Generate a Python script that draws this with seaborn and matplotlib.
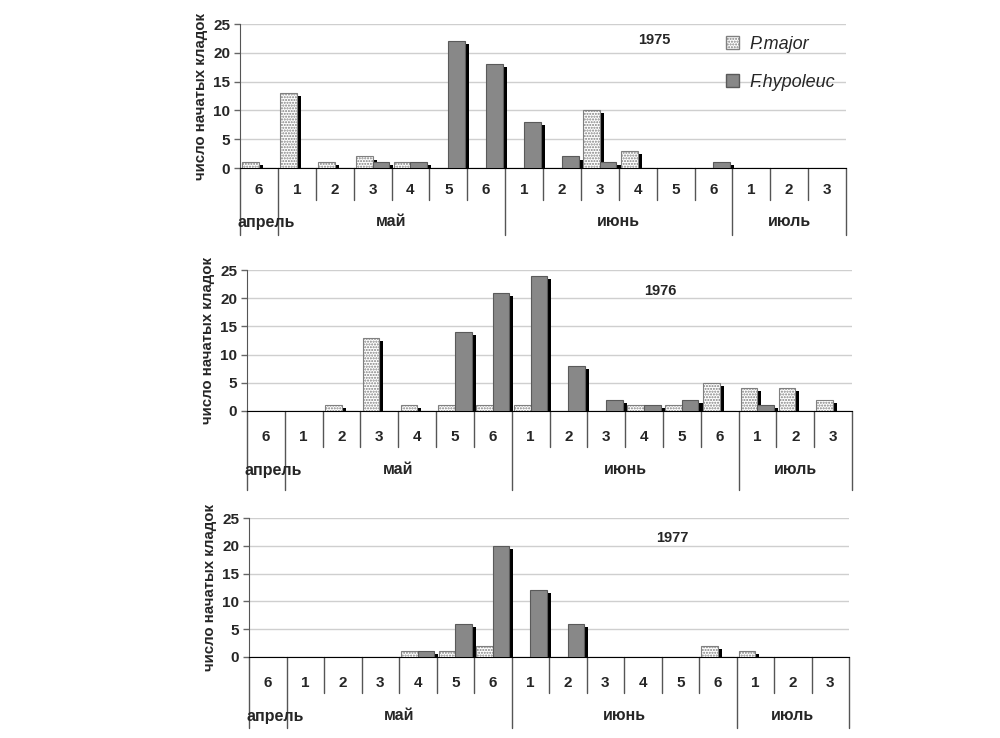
import pandas as pd
import seaborn as sns
import matplotlib.pyplot as plt
import matplotlib.transforms as mtransforms
from matplotlib.patches import Rectangle, Patch

# 16 ten-day periods (декады): апрель 6, май 1-6, июнь 1-6, июль 1-3
slots = ['6', '1', '2', '3', '4', '5', '6', '1', '2', '3', '4', '5', '6', '1', '2', '3']
months = ['апрель', 'май', 'июнь', 'июль']
month_len = [1, 6, 6, 3]
species = ['P.major', 'F.hypoleuc']
years = ['1975', '1976', '1977']

pmajor_1975 = [1, 13, 1, 2, 1, 0, 0, 0, 0, 10, 3, 0, 0, 0, 0, 0]
fhyp_1975 = [0, 0, 0, 1, 1, 22, 18, 8, 2, 1, 0, 0, 1, 0, 0, 0]
pmajor_1976 = [0, 0, 1, 13, 1, 1, 1, 1, 0, 0, 1, 1, 5, 4, 4, 2]
fhyp_1976 = [0, 0, 0, 0, 0, 14, 21, 24, 8, 2, 1, 2, 0, 1, 0, 0]
pmajor_1977 = [0, 0, 0, 0, 1, 1, 2, 0, 0, 0, 0, 0, 2, 1, 0, 0]
fhyp_1977 = [0, 0, 0, 0, 1, 6, 20, 12, 6, 0, 0, 0, 0, 0, 0, 0]

series = {
    '1975': (pmajor_1975, fhyp_1975),
    '1976': (pmajor_1976, fhyp_1976),
    '1977': (pmajor_1977, fhyp_1977),
}

sns.set_style("white")
plt.rcParams['font.family'] = ['Liberation Sans', 'DejaVu Sans']

W, H = 1000, 738
fig = plt.figure(figsize=(W / 100, H / 100), dpi=100)

# panel boxes in pixels: left, right, y of 0, y of 25
boxes = [(240, 846, 168, 24), (247, 852, 411, 270), (249, 849, 657, 518)]
# table layout below axis (px): number row, month row, short line, long line
table_px = [(22, 54, 32, 67), (26, 59, 36, 79), (26, 59, 36, 71)]
year_pos = [(0.683, 0.889), (0.683, 0.851), (0.705, 0.856)]

palette = {'P.major': 'white', 'F.hypoleuc': '#888888'}
order = [str(i) for i in range(len(slots))]

for k, yr in enumerate(years):
    left, right, y0, y25 = boxes[k]
    ah = y0 - y25
    ax = fig.add_axes([left / W, 1 - y0 / H, (right - left) / W, ah / H])

    pm, fh = series[yr]
    df = pd.DataFrame({
        'pos': order * 2,
        'count': pm + fh,
        'species': ['P.major'] * len(pm) + ['F.hypoleuc'] * len(fh),
    })
    sns.barplot(data=df, x='pos', y='count', hue='species', order=order,
                hue_order=species, palette=palette, width=0.88, gap=0,
                legend=False, ax=ax, zorder=3)

    for bar in ax.containers[0]:
        bar.set_hatch('......')
        bar.set_edgecolor('#808080')
        bar.set_linewidth(0.8)
    for bar in ax.containers[1]:
        bar.set_edgecolor('#5a5a5a')
        bar.set_linewidth(0.8)

    # black drop shadow on the right of every bar
    shift = ax.transData + mtransforms.ScaledTranslation(2.9 / 72, -2.2 / 72, fig.dpi_scale_trans)
    for cont in ax.containers:
        for bar in cont:
            if bar.get_height() > 0:
                ax.add_patch(Rectangle((bar.get_x(), 0), bar.get_width(), bar.get_height(),
                                       transform=shift, facecolor='black',
                                       edgecolor='none', zorder=2))

    ax.set_xlim(-0.5, len(slots) - 0.5)
    ax.set_ylim(0, 25)
    ax.set_yticks(range(0, 26, 5))
    ax.yaxis.grid(True, color='#cfcfcf', lw=1)
    ax.set_axisbelow(True)
    ax.set_xticks([])
    ax.set_xlabel('')
    ax.set_ylabel('число начатых кладок', fontsize=10.8, fontweight='bold', labelpad=4)
    ax.tick_params(axis='y', left=True, length=4, width=1, color='#666666',
                   labelsize=11, pad=3)
    for lab in ax.get_yticklabels():
        lab.set_fontweight('bold')
    for side in ['top', 'right']:
        ax.spines[side].set_visible(False)
    ax.spines['left'].set_color('#555555')
    ax.spines['bottom'].set_color('black')

    # category table below the axis
    num_px, mon_px, short_px, long_px = table_px[k]
    tr = mtransforms.blended_transform_factory(ax.transData, ax.transAxes)
    for i, s in enumerate(slots):
        ax.text(i, -num_px / ah, s, transform=tr, ha='center', va='center',
                fontsize=11, fontweight='bold')
    bounds = [-0.5]
    for n in month_len:
        bounds.append(bounds[-1] + n)
    for i in range(len(slots) + 1):
        x = i - 0.5
        depth = long_px if x in bounds else short_px
        ax.plot([x, x], [0, -depth / ah], transform=tr, color='#555555',
                lw=1, clip_on=False)
    for m, a, b in zip(months, bounds[:-1], bounds[1:]):
        ax.text((a + b) / 2 + (0.2 if m == 'апрель' else 0), -mon_px / ah, m,
                transform=tr, ha='center', va='center', fontsize=11.5,
                fontweight='bold')

    ax.text(year_pos[k][0], year_pos[k][1], yr, transform=ax.transAxes,
            ha='center', va='center', fontsize=10.5, fontweight='bold')

    if k == 0:
        handles = [Patch(facecolor='white', edgecolor='#808080', hatch='......'),
                   Patch(facecolor='#888888', edgecolor='#5a5a5a')]
        ax.legend(handles, species, loc='upper left', bbox_to_anchor=(0.775, 1.03),
                  frameon=False, handlelength=0.7, handleheight=0.7,
                  handletextpad=0.6, labelspacing=1.15,
                  prop={'style': 'italic', 'size': 13})

plt.savefig("out.png", dpi=100)
